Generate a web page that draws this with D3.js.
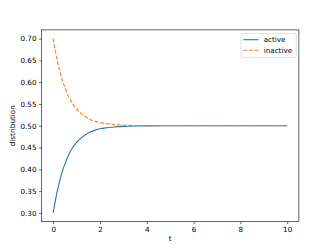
<!DOCTYPE html>
<html>
<head>
<meta charset="utf-8">
<script src="https://cdn.jsdelivr.net/npm/d3@7"></script>
<style>
  body { margin: 0; background: #fff; }
  text { font-family: "DejaVu Sans", sans-serif; }
</style>
</head>
<body>
<script>
// values
var tValues = [0, 0.1, 0.2, 0.3, 0.4, 0.5, 0.65, 0.8, 1.0, 1.2, 1.4, 1.6, 1.8, 2.0, 2.3, 2.6, 3.0, 3.5, 4, 5, 6, 7, 8, 9, 10];
var activeValues = [0.300, 0.330, 0.356, 0.378, 0.397, 0.412, 0.432, 0.447, 0.462, 0.472, 0.480, 0.486, 0.490, 0.493, 0.4955, 0.4973, 0.4986, 0.4994, 0.4997, 0.4999, 0.5, 0.5, 0.5, 0.5, 0.5];
var inactiveValues = [0.700, 0.670, 0.644, 0.622, 0.603, 0.588, 0.568, 0.553, 0.538, 0.528, 0.520, 0.514, 0.510, 0.507, 0.5045, 0.5027, 0.5014, 0.5006, 0.5003, 0.5001, 0.5, 0.5, 0.5, 0.5, 0.5];
var seriesNames = ["active", "inactive"];
var xTicks = [0, 2, 4, 6, 8, 10];
var yTicks = [0.30, 0.35, 0.40, 0.45, 0.50, 0.55, 0.60, 0.65, 0.70];

var svgWidth = 332;
var svgHeight = 249;

var margin = { top: 29.9, right: 33.1, bottom: 27.4, left: 41.5 };
var width = svgWidth - margin.left - margin.right;
var height = svgHeight - margin.top - margin.bottom;

var svg = d3.select("body")
  .append("svg")
  .attr("width", svgWidth)
  .attr("height", svgHeight);

var chartGroup = svg.append("g")
  .attr("transform", `translate(${margin.left}, ${margin.top})`);

var xScale = d3.scaleLinear().domain([-0.5, 10.5]).range([0, width]);
var yScale = d3.scaleLinear().domain([0.28, 0.72]).range([height, 0]);

var bottomAxis = d3.axisBottom(xScale).tickValues(xTicks).tickSize(2.5).tickPadding(2.5).tickFormat(d3.format("d"));
var leftAxis = d3.axisLeft(yScale).tickValues(yTicks).tickSize(2.5).tickPadding(2.5).tickFormat(d3.format(".2f"));

var gx = chartGroup.append("g").attr("transform", `translate(0, ${height})`).call(bottomAxis);
var gy = chartGroup.append("g").call(leftAxis);

[gx, gy].forEach(function(g) {
  g.select(".domain").remove();
  g.selectAll("line").attr("stroke", "#000").attr("stroke-width", 0.6);
  g.selectAll("text").attr("font-size", 7.2).attr("fill", "#000").attr("font-family", "DejaVu Sans");
});

// frame
chartGroup.append("rect")
  .attr("width", width)
  .attr("height", height)
  .attr("fill", "none")
  .attr("stroke", "#000")
  .attr("stroke-width", 0.6);

var lineActive = d3.line()
  .x((d, i) => xScale(tValues[i]))
  .y(d => yScale(d))
  .curve(d3.curveMonotoneX);

chartGroup.append("path")
  .datum(activeValues)
  .attr("d", lineActive)
  .attr("fill", "none")
  .attr("stroke", "#1f77b4")
  .attr("stroke-width", 1.1);

chartGroup.append("path")
  .datum(inactiveValues)
  .attr("d", lineActive)
  .attr("fill", "none")
  .attr("stroke", "#ff7f0e")
  .attr("stroke-width", 1.1)
  .attr("stroke-dasharray", "4,1.7");

// axis labels
svg.append("text")
  .attr("x", margin.left + width / 2)
  .attr("y", 241)
  .attr("text-anchor", "middle")
  .attr("font-size", 7.2)
  .text("t");

svg.append("text")
  .attr("transform", `translate(15, ${margin.top + height / 2}) rotate(-90)`)
  .attr("text-anchor", "middle")
  .attr("font-size", 7.2)
  .text("distribution");

// legend
var legend = chartGroup.append("g")
  .attr("transform", `translate(${width - 57.8}, 3.6)`);

legend.append("rect")
  .attr("width", 55.2)
  .attr("height", 24)
  .attr("rx", 1.5)
  .attr("fill", "#fff")
  .attr("fill-opacity", 0.8)
  .attr("stroke", "#ccc")
  .attr("stroke-width", 0.6);

var colors = ["#1f77b4", "#ff7f0e"];
var dashes = [null, "4,1.7"];

seriesNames.forEach(function(name, i) {
  var y = 6.2 + i * 10.6;
  legend.append("line")
    .attr("x1", 2.2).attr("x2", 17.4)
    .attr("y1", y).attr("y2", y)
    .attr("stroke", colors[i])
    .attr("stroke-width", 1.1)
    .attr("stroke-dasharray", dashes[i]);
  legend.append("text")
    .attr("x", 22.6)
    .attr("y", y + 2.6)
    .attr("font-size", 7.2)
    .text(name);
});
</script>
</body>
</html>
